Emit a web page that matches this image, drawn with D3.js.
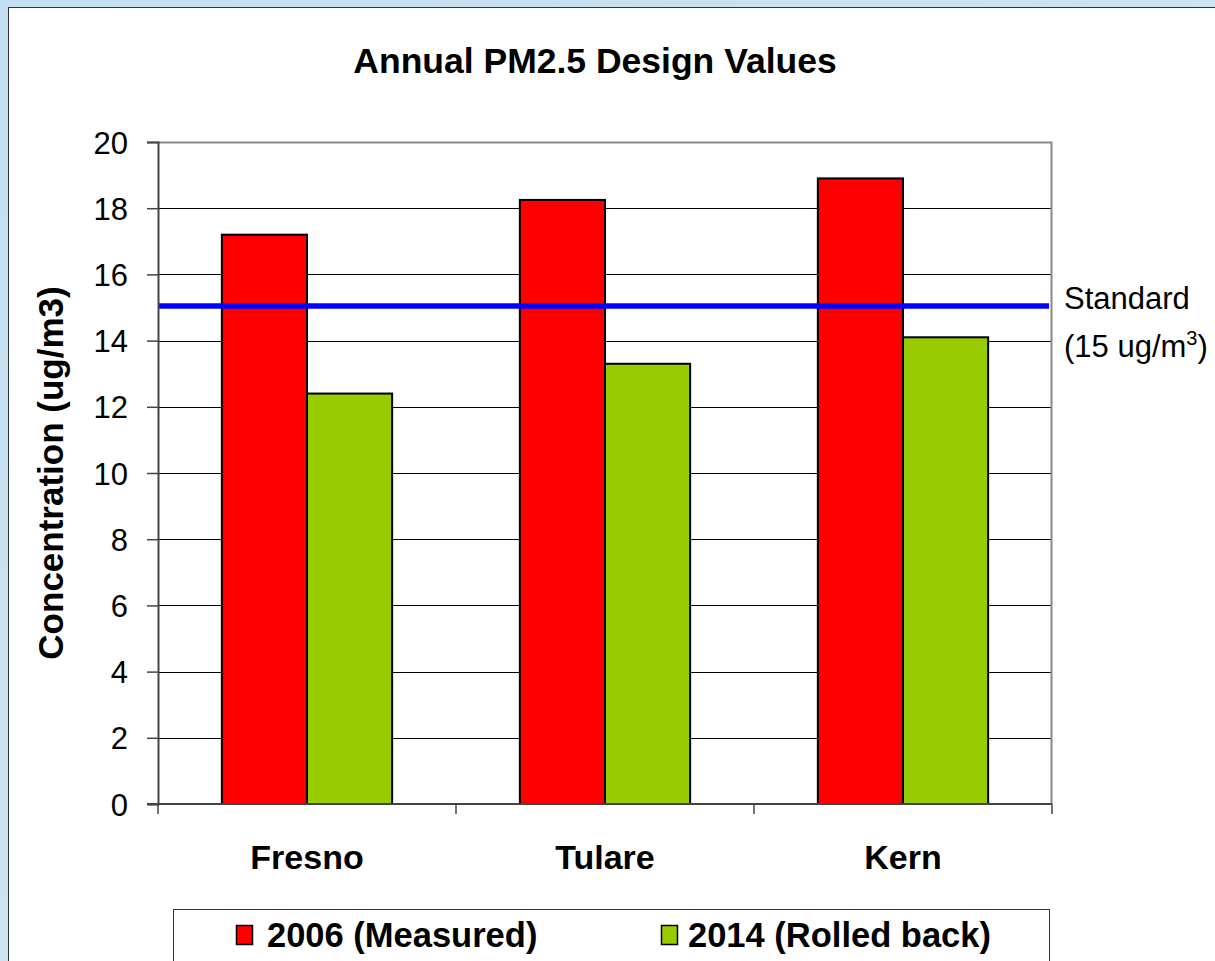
<!DOCTYPE html>
<html>
<head>
<meta charset="utf-8">
<script src="https://cdn.jsdelivr.net/npm/d3@7"></script>
<style>
  body { margin: 0; background: #c8e2f3; }
  svg { display: block; font-family: Arial, "Liberation Sans", sans-serif; }
</style>
</head>
<body>
<div id="chart"></div>
<script>
// data
var counties = ["Fresno", "Tulare", "Kern"];
var seriesNames = ["2006 (Measured)", "2014 (Rolled back)"];
var measured2006 = [17.2, 18.25, 18.9];
var rolledBack2014 = [12.4, 13.3, 14.1];
var standardValue = 15;
var yTicks = [0, 2, 4, 6, 8, 10, 12, 14, 16, 18, 20];
var seriesColors = ["#ff0000", "#99cc00"];

var width = 1215, height = 961;
var plot = { left: 158, right: 1052, top: 142, bottom: 804 };

var svg = d3.select("#chart").append("svg")
  .attr("width", width)
  .attr("height", height);

// background panel
var defs = svg.append("defs");
var grad = defs.append("linearGradient").attr("id", "bg").attr("x1", 0).attr("y1", 0).attr("x2", 1).attr("y2", 1);
grad.append("stop").attr("offset", "0%").attr("stop-color", "#c3dff2");
grad.append("stop").attr("offset", "100%").attr("stop-color", "#d3e8f6");
svg.append("rect").attr("width", width).attr("height", height).attr("fill", "url(#bg)");
svg.append("rect")
  .attr("x", 8.5).attr("y", 7.5)
  .attr("width", width).attr("height", height)
  .attr("fill", "#fff").attr("stroke", "#333").attr("stroke-width", 1);

var y = d3.scaleLinear().domain([0, 20]).range([plot.bottom, plot.top]);
var x0 = d3.scaleBand().domain(counties).range([plot.left, plot.right]);
var x1 = d3.scaleBand().domain(seriesNames).range([0, x0.bandwidth()]).paddingOuter(0.75);

// gridlines
svg.append("g").selectAll("line")
  .data(yTicks.filter(function (d) { return d > 0 && d < 20; }))
  .enter().append("line")
    .attr("x1", plot.left).attr("x2", plot.right)
    .attr("y1", function (d) { return Math.round(y(d)) + 0.5; })
    .attr("y2", function (d) { return Math.round(y(d)) + 0.5; })
    .attr("stroke", "#000").attr("stroke-width", 1);

// plot border (top, right)
svg.append("path")
  .attr("d", "M" + plot.left + "," + (plot.top + 0.5) + "H" + (plot.right - 0.5) + "V" + plot.bottom)
  .attr("fill", "none").attr("stroke", "#888").attr("stroke-width", 2);

// bars
var rows = counties.map(function (c, i) {
  return { county: c, values: [measured2006[i], rolledBack2014[i]] };
});
var groups = svg.append("g").selectAll("g")
  .data(rows)
  .enter().append("g")
    .attr("transform", function (d) { return "translate(" + x0(d.county) + ",0)"; });
groups.selectAll("rect")
  .data(function (d) { return d.values.map(function (v, j) { return { name: seriesNames[j], value: v, j: j }; }); })
  .enter().append("rect")
    .attr("x", function (d) { return x1(d.name); })
    .attr("y", function (d) { return y(d.value); })
    .attr("width", x1.bandwidth())
    .attr("height", function (d) { return y(0) - y(d.value); })
    .attr("fill", function (d) { return seriesColors[d.j]; })
    .attr("stroke", "#000").attr("stroke-width", 2);

// standard line
svg.append("line")
  .attr("x1", plot.left).attr("x2", plot.right - 3)
  .attr("y1", y(standardValue) - 1.5).attr("y2", y(standardValue) - 1.5)
  .attr("stroke", "#0000ff").attr("stroke-width", 5.5);

// y axis
var yAxis = svg.append("g")
  .attr("transform", "translate(" + plot.left + ",0)")
  .call(d3.axisLeft(y).tickValues(yTicks).tickSize(11).tickPadding(19));
yAxis.select(".domain").attr("stroke", "#444").attr("stroke-width", 2);
yAxis.selectAll(".tick line").attr("stroke", "#444").attr("stroke-width", 1.5);
yAxis.selectAll("text").attr("font-size", "31px").attr("fill", "#000").attr("font-family", "Arial, 'Liberation Sans', sans-serif").attr("dy", "0.36em");

// x axis (category boundary ticks)
var boundaries = counties.map(function (c) { return x0(c); }).concat([plot.right]);
svg.append("line")
  .attr("x1", plot.left - 11).attr("x2", plot.right)
  .attr("y1", plot.bottom).attr("y2", plot.bottom)
  .attr("stroke", "#444").attr("stroke-width", 2);
svg.append("g").selectAll("line")
  .data(boundaries)
  .enter().append("line")
    .attr("x1", function (d) { return d; }).attr("x2", function (d) { return d; })
    .attr("y1", plot.bottom).attr("y2", plot.bottom + 10)
    .attr("stroke", "#444").attr("stroke-width", 1.5);
svg.append("g").selectAll("text")
  .data(counties)
  .enter().append("text")
    .attr("x", function (d) { return x0(d) + x0.bandwidth() / 2; })
    .attr("y", 869)
    .attr("text-anchor", "middle")
    .attr("font-size", "34px").attr("font-weight", "bold")
    .text(function (d) { return d; });

// title
svg.append("text")
  .attr("x", 595).attr("y", 73)
  .attr("text-anchor", "middle")
  .attr("font-size", "35.5px").attr("font-weight", "bold")
  .text("Annual PM2.5 Design Values");

// y axis title
svg.append("text")
  .attr("transform", "translate(63," + ((plot.top + plot.bottom) / 2) + ") rotate(-90)")
  .attr("text-anchor", "middle")
  .attr("font-size", "35px").attr("font-weight", "bold")
  .text("Concentration (ug/m3)");

// standard label
svg.append("text")
  .attr("x", 1064).attr("y", 309)
  .attr("font-size", "31px")
  .text("Standard");
var std2 = svg.append("text")
  .attr("x", 1064).attr("y", 357)
  .attr("font-size", "31px");
std2.append("tspan").text("(15 ug/m");
std2.append("tspan").attr("dy", -12).attr("font-size", "20px").text("3");
std2.append("tspan").attr("dy", 12).text(")");

// legend
var legend = svg.append("g");
legend.append("rect")
  .attr("x", 173.5).attr("y", 909.5)
  .attr("width", 876).attr("height", 60)
  .attr("fill", "#fff").attr("stroke", "#333").attr("stroke-width", 1);
var legendX = [236, 661];
var items = legend.selectAll("g.item")
  .data(seriesNames)
  .enter().append("g")
    .attr("class", "item")
    .attr("transform", function (d, i) { return "translate(" + legendX[i] + ",0)"; });
items.append("rect")
  .attr("x", 0.5).attr("y", 925.5)
  .attr("width", 16).attr("height", 19)
  .attr("fill", function (d, i) { return seriesColors[i]; })
  .attr("stroke", "#000").attr("stroke-width", 1.5);
items.append("text")
  .attr("x", function (d, i) { return i === 0 ? 31 : 27; })
  .attr("y", 947)
  .attr("font-size", "34.5px").attr("font-weight", "bold")
  .text(function (d) { return d; });
</script>
</body>
</html>
